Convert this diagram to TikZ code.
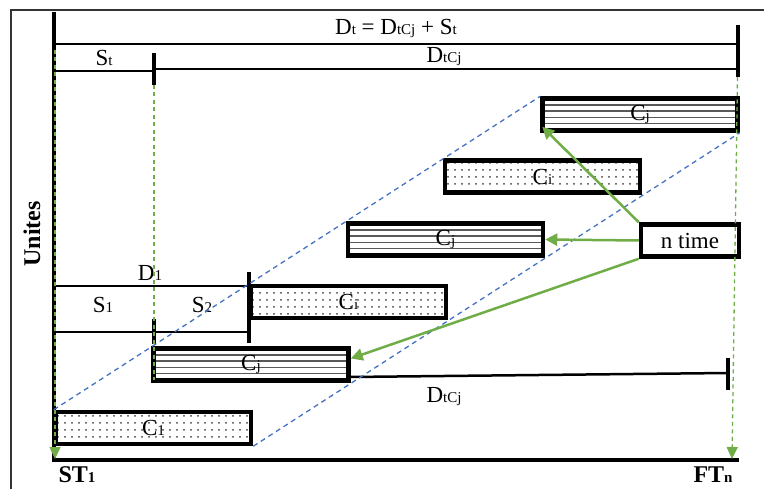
\documentclass[tikz,border=0pt]{standalone}
\usepackage{fontspec}
\setmainfont{Liberation Serif}
\usetikzlibrary{patterns.meta,calc,arrows.meta}
\definecolor{arrgreen}{RGB}{112,173,71}
\definecolor{guideblue}{RGB}{68,114,196}
% small on-baseline index used in the labels
\newcommand\lsub[1]{{\fontsize{15}{15}\selectfont #1}}

\begin{document}
\begin{tikzpicture}[x=1pt,y=-1pt,
  every node/.style={font=\fontsize{23}{25}\selectfont, inner sep=0pt},
  task/.style={draw, line width=4.5pt, minimum width=195pt, minimum height=32pt},
  dotted task/.style={task, pattern={Dots[distance=6.5pt, radius=1pt]}, pattern color=black!75},
  hatched task/.style={task, path picture={
      \foreach \f in {0.22,0.41,0.60,0.79}
        \draw[black!65, line width=1.6pt]
          ($(path picture bounding box.south west)!\f!(path picture bounding box.north west)$) --
          ($(path picture bounding box.south east)!\f!(path picture bounding box.north east)$);}},
  axisline/.style={line width=4pt, line join=miter},
  span/.style={line width=2.5pt},
  tick/.style={line width=4pt},
  guide/.style={arrgreen, dash pattern=on 4pt off 3.5pt, line width=1.3pt},
  guide tip/.style={-{Triangle[length=12pt,width=11pt]}},
  diag/.style={guideblue, dash pattern=on 5pt off 4pt, line width=1.3pt},
  pointer/.style={arrgreen, line width=2.5pt, -{Triangle[length=12pt,width=12pt]}},
  bold label/.style={font=\fontsize{24}{26}\selectfont\bfseries}
]
\useasboundingbox (0,0) rectangle (764,489);

% frame
\coordinate (frBL) at (11,495);
\coordinate (frTL) at (11,10);
\coordinate (frTR) at (770,10);
\draw[line width=1.5pt, black!80] (frBL) -- (frTL) -- (frTR);

% axes
\coordinate (yTop) at (54,12);
\coordinate (orig) at (54,460);
\coordinate (xEnd) at (739,460);
\draw[axisline] (yTop) -- (orig) -- (xEnd);

% total duration and its parts
\coordinate (dtA) at (54,44);
\coordinate (dtB) at (738,44);
\draw[span] (dtA) -- (dtB);
\coordinate (tkA) at (738,25);
\coordinate (tkB) at (738,77);
\draw[tick] (tkA) -- (tkB);
\coordinate (stA) at (54,71);
\coordinate (stB) at (154,71);
\draw[span] (stA) -- (stB);
\coordinate (stTa) at (154,53);
\coordinate (stTb) at (154,85);
\draw[tick] (stTa) -- (stTb);
\coordinate (dcA) at (154,69);
\coordinate (dcB) at (738,69);
\draw[span] (dcA) -- (dcB);
\node (lblDt) at (396,28) {D\lsub{t} = D\lsub{tCj} + S\lsub{t}};
\node (lblSt) at (104,58) {S\lsub{t}};
\node (lblDc) at (444,57) {D\lsub{tCj}};

% tasks
\node[dotted task]  (c1)  at (153.5,428) {C\lsub{1}};
\node[hatched task] (cj1) at (251,364.5)  {C\lsub{j}};
\node[dotted task]  (ci1) at (348.5,302)  {C\lsub{i}};
\node[hatched task] (cj2) at (445.5,239.5) {C\lsub{j}};
\node[dotted task]  (ci2) at (542.5,176.5) {C\lsub{i}};
\node[hatched task] (cj3) at (640,114.5)  {C\lsub{j}};
\node[task, minimum width=98pt] (nt) at (690,240.5) {n time};

% first-unit durations
\coordinate (d1A) at (54,286);
\coordinate (d1B) at (249,286);
\draw[line width=2pt] (d1A) -- (d1B);
\coordinate (d1Ta) at (249,272);
\coordinate (d1Tb) at (249,343);
\draw[tick] (d1Ta) -- (d1Tb);
\coordinate (s1A) at (54,332);
\coordinate (s1B) at (249,332);
\draw[span] (s1A) -- (s1B);
\coordinate (s1Ta) at (154,319);
\coordinate (s1Tb) at (154,344);
\draw[tick] (s1Ta) -- (s1Tb);
\node (lblD1) at (150,273) {D\lsub{1}};
\node (lblS1) at (103,305) {S\lsub{1}};
\node (lblS2) at (202,305) {S\lsub{2}};

% repeated-unit duration
\coordinate (rdA) at (350,377);
\coordinate (rdB) at (728,373);
\draw[span] (rdA) -- (rdB);
\coordinate (rdTa) at (728,358);
\coordinate (rdTb) at (728,390);
\draw[tick] (rdTa) -- (rdTb);
\node (lblRd) at (444,397) {D\lsub{tCj}};

% green guides
\coordinate (gLa) at (55,50);
\coordinate (gLb) at (55,459);
\draw[guide, guide tip] (gLa) -- (gLb);
\coordinate (gMa) at (154,85);
\coordinate (gMb) at (154,380);
\draw[guide] (gMa) -- (gMb);
\coordinate (gRa) at (737.5,77);
\coordinate (gRb) at (732,459);
\draw[guide, guide tip] (gRa) -- (gRb);

% blue envelope
\draw[diag] (c1.north west) -- (cj3.north west);
\draw[diag] (c1.south east) -- (cj3.south east);

% pointers from the repetition box
\draw[pointer] (nt.north west) -- ($(cj3.south west)+(2,-6)$);
\draw[pointer] (nt.west) -- (cj2.east);
\draw[pointer] (nt.south west) -- ($(cj1.east)+(0,-6)$);

% axis labels
\node[bold label, rotate=90] (lblU) at (32,234) {Unites};
\node[bold label] (lblST) at (77,475) {ST\lsub{1}};
\node[bold label] (lblFT) at (713,475) {FT\lsub{n}};
\end{tikzpicture}
\end{document}
